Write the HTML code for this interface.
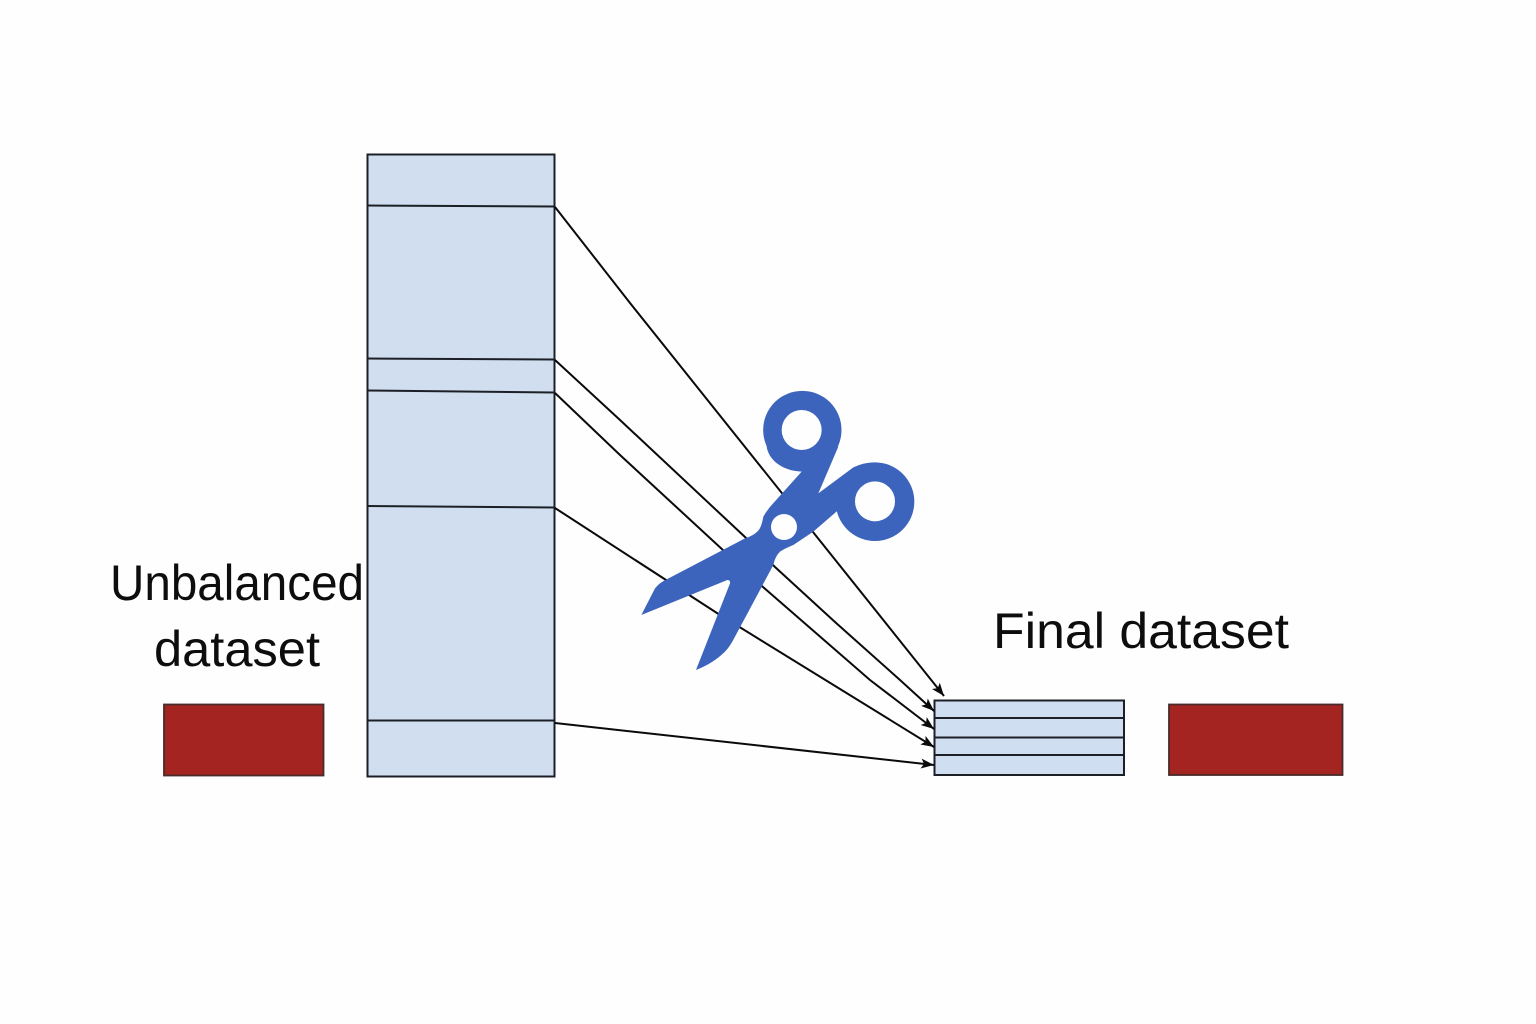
<!DOCTYPE html>
<html>
<head>
<meta charset="utf-8">
<style>
html,body{margin:0;padding:0;background:#fefefe;}
svg{display:block;}
text{font-family:"Liberation Sans",sans-serif;font-size:50px;fill:#0d0d0d;}
</style>
</head>
<body>
<svg width="1536" height="1024" viewBox="0 0 1536 1024" xmlns="http://www.w3.org/2000/svg">
<defs>
<marker id="a" markerUnits="userSpaceOnUse" markerWidth="14" markerHeight="10" refX="13" refY="5" orient="auto">
<path d="M0 0 L13 5 L0 10 L3 5 Z" fill="#0a0a0a"/>
</marker>
</defs>
<rect width="1536" height="1024" fill="#fefefe"/>

<rect x="164" y="704.500" width="159.500" height="71" fill="#a32420" stroke="#4a2a2a" stroke-width="1.800"/>
<rect x="1169" y="704.500" width="173.500" height="70.500" fill="#a32420" stroke="#4a2a2a" stroke-width="1.800"/>

<rect x="367.500" y="154.500" width="187" height="622" fill="#d0deef" stroke="#1c2026" stroke-width="2"/>
<g stroke="#1c2026" stroke-width="2" fill="none">
<path d="M367.500 205.500 L554.500 206.500"/>
<path d="M367.500 358.500 L554.500 359.500"/>
<path d="M367.500 390.500 L554.500 392.500"/>
<path d="M367.500 506 L554.500 507.500"/>
<path d="M367.500 720.500 L554.500 720.500"/>
</g>

<rect x="934.500" y="700.500" width="189.500" height="74.500" fill="#cfdef0" stroke="#1c2026" stroke-width="2"/>
<g stroke="#1c2026" stroke-width="2" fill="none">
<path d="M934.500 718 L1124 718"/>
<path d="M934.500 737.500 L1124 737.500"/>
<path d="M934.500 755 L1124 755"/>
</g>

<g stroke="#0a0a0a" stroke-width="2" fill="none">
<path d="M555 207 L630 303 L944 696" marker-end="url(#a)"/>
<path d="M555 360 L620 420 L745 537 L775 567 L835 622 L900 680 L934 711" marker-end="url(#a)"/>
<path d="M555 393 L620 455 L763 587 L870 680 L934 729" marker-end="url(#a)"/>
<path d="M555 508 L720 615 L934 747" marker-end="url(#a)"/>
<path d="M555 723 L934 765" marker-end="url(#a)"/>
</g>

<g transform="translate(620 380) scale(0.33333)">
<g fill="#3c64bd">
<path d="M64 705 L105 625 Q118 608 140 598 L375 475 Q400 468 415 452 Q425 440 430 410 Q440 392 455 375 L545 275 L560 200 L655 200 L595 340 L700 262 Q730 247 765 247 L765 330 L655 390 L580 455 L520 495 Q495 505 480 515 Q465 530 460 555 L345 770 Q330 800 315 815 Q280 850 228 870 L330 610 Q332 600 322 600 Z"/>
<path d="M545 275 C480 272 445 235 440 200 L655 190 L600 300 Z"/>
<circle cx="547" cy="150" r="117.500"/>
<circle cx="765" cy="365" r="118"/>
</g>
<g fill="#fefefe">
<circle cx="545" cy="150" r="60"/>
<circle cx="765" cy="364" r="60"/>
<circle cx="492" cy="441" r="39"/>
</g>
</g>

<text x="110" y="600" textLength="254" lengthAdjust="spacingAndGlyphs">Unbalanced</text>
<text x="154" y="666" textLength="166" lengthAdjust="spacingAndGlyphs">dataset</text>
<text x="993" y="648" textLength="296" lengthAdjust="spacingAndGlyphs">Final dataset</text>
</svg>
</body>
</html>
